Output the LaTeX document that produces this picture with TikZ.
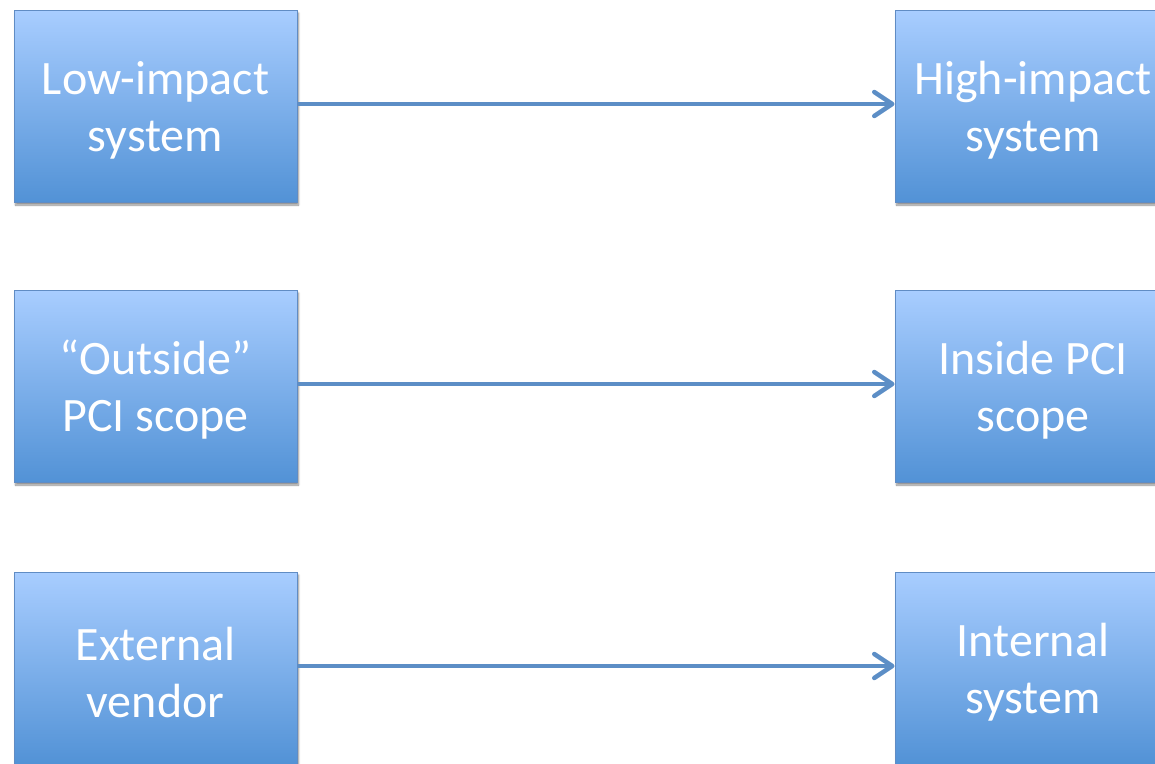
\documentclass[tikz,border=0pt]{standalone}
\usepackage{fontspec}
\setmainfont{Carlito}
\usetikzlibrary{arrows.meta,shadows.blur}
\definecolor{boxtop}{RGB}{168,205,255}
\definecolor{boxbot}{RGB}{82,146,214}
\definecolor{boxline}{RGB}{96,140,196}
\definecolor{linkcol}{RGB}{92,142,198}
\tikzset{
  sysbox/.style={rectangle, draw=boxline, line width=1pt,
    top color=boxtop, bottom color=boxbot,
    minimum width=283pt, minimum height=192pt, inner sep=0pt,
    blur shadow={shadow xshift=1.5pt, shadow yshift=-3pt, shadow blur steps=6, shadow opacity=45},
    label={[boxtext]center:#1}},
  boxtext/.style={align=center, text=white, inner sep=0pt, yshift=-4pt,
    font=\fontsize{48}{57}\selectfont},
  link/.style={draw=linkcol, line width=4.5pt,
    -{Straight Barb[length=18pt,width=24pt,line cap=round,line join=round]}}
}
\begin{document}
\begin{tikzpicture}[x=1pt,y=-1pt]
\useasboundingbox (0,0) rectangle (1155,763);
\clip (0,0) rectangle (1155,763);
% source boxes on the left
\node[sysbox={Low-impact\\system}] (l1) at (155.5,106) {};
\node[sysbox={“Outside”\\PCI scope}] (l2) at (155.5,386) {};
\node[sysbox={External\\vendor}] (l3) at (155.5,668) {};
% target boxes on the right
\node[sysbox={High-impact\\system}, minimum width=276pt] (r1) at (1033,106) {};
\node[sysbox={Inside PCI\\scope}, minimum width=276pt] (r2) at (1033,386) {};
\node[sysbox={Internal\\system}, minimum width=276pt] (r3) at (1033,668) {};
% connectors
\draw[link] ([yshift=2pt]l1.east) -- ([yshift=2pt]r1.west);
\draw[link] ([yshift=2pt]l2.east) -- ([yshift=2pt]r2.west);
\draw[link] ([yshift=2pt]l3.east) -- ([yshift=2pt]r3.west);
\end{tikzpicture}
\end{document}
